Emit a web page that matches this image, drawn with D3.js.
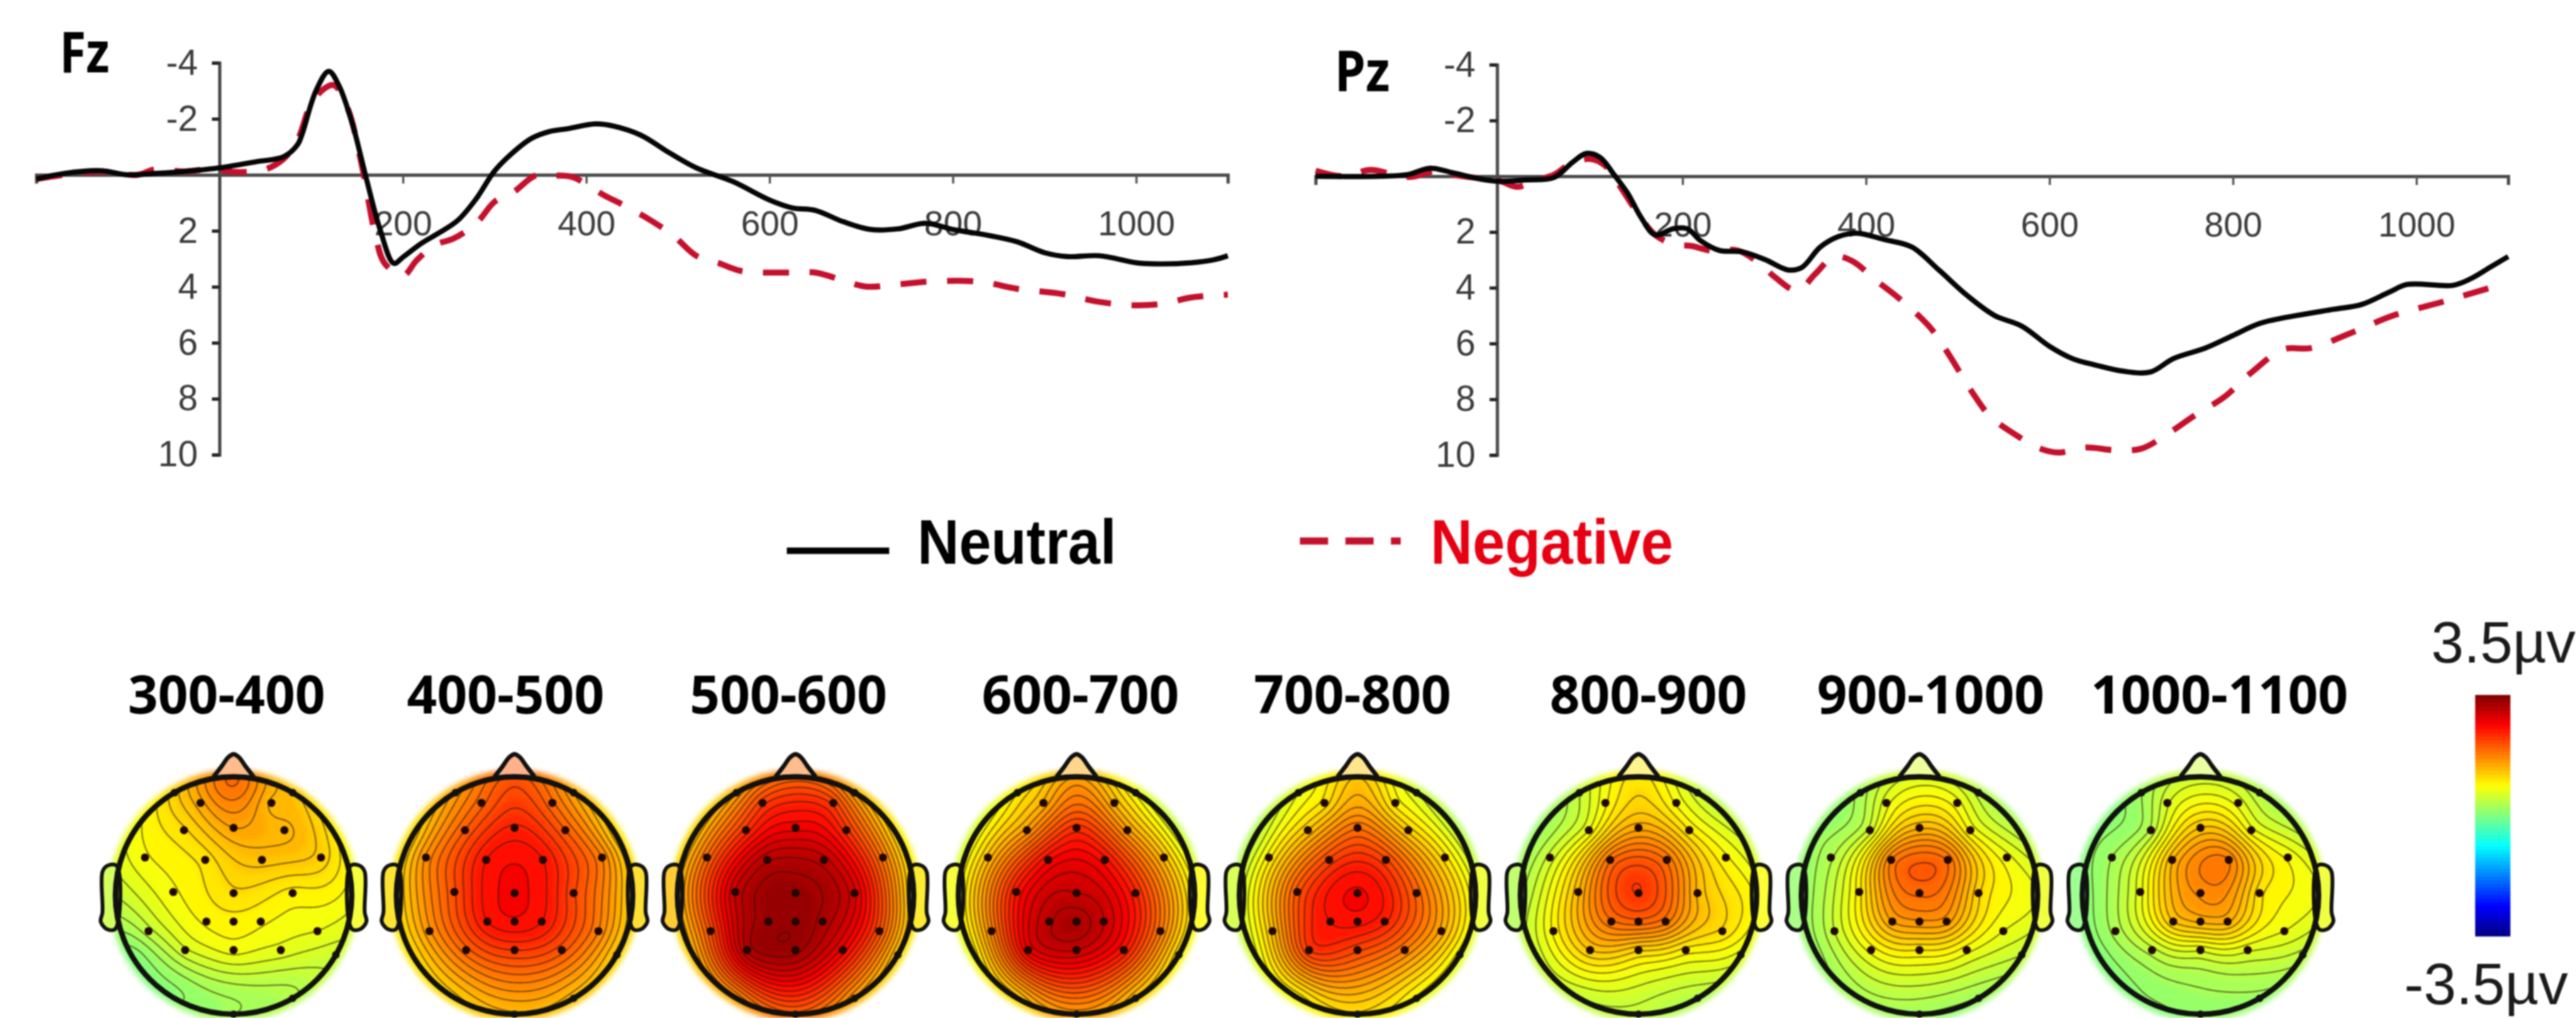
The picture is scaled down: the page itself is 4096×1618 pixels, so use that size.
<!DOCTYPE html>
<html>
<head>
<meta charset="utf-8">
<script src="https://cdn.jsdelivr.net/npm/d3@7"></script>
<style>
  html, body { margin: 0; padding: 0; background: #fff; overflow: hidden; }
  svg { display: block; filter: blur(1px); }
</style>
</head>
<body>
<div id="chart"></div>
<script>
// ERP traces (ms / microvolt)
const fzNeutralTime = [-200,-170,-130,-100,-70,-40,0,40,70,85,90,105,119,130,145,160,175,190,200,220,240,260,280,300,320,340,360,380,410,430,460,490,520,560,600,625,650,680,710,740,770,800,840,870,900,925,960,1000,1020,1060,1085,1100];
const fzNeutralValue = [0.15,-0.05,-0.15,0,-0.05,-0.12,-0.25,-0.47,-0.65,-1.08,-1.46,-3.0,-3.7,-3.2,-1.8,0.13,1.95,3.16,2.94,2.45,2.06,1.62,0.85,-0.14,-0.8,-1.3,-1.55,-1.65,-1.82,-1.74,-1.41,-0.8,-0.25,0.24,0.9,1.18,1.27,1.67,1.95,1.93,1.73,1.95,2.17,2.39,2.78,2.92,2.89,3.14,3.18,3.14,3.03,2.89];
const fzNegativeTime = [-200,-170,-130,-90,-70,-40,-10,20,50,70,85,100,115,125,140,155,170,180,200,215,235,255,280,300,320,345,365,385,420,440,470,495,520,545,570,620,650,680,705,740,780,830,870,920,960,1000,1030,1060,1100];
const fzNegativeValue = [0.15,0,-0.12,0,-0.2,-0.12,-0.2,-0.1,-0.2,-0.58,-1.25,-2.55,-3.1,-3.2,-2.35,-0.36,2.17,3.16,3.6,3.05,2.5,2.28,1.73,0.96,0.63,0.02,0.02,0.08,0.74,1.07,1.62,2.17,2.89,3.16,3.44,3.49,3.49,3.77,3.99,3.91,3.8,3.82,4.07,4.26,4.54,4.66,4.6,4.38,4.28];

const pzNeutralTime = [-200,-130,-100,-75,-50,-20,0,30,60,80,95,110,125,140,155,170,190,205,220,240,265,290,315,330,350,370,390,420,450,480,510,540,570,600,625,650,680,710,735,770,800,830,870,910,940,970,990,1040,1060,1080,1100];
const pzNeutralValue = [0,0,-0.06,-0.29,-0.12,0.1,0.18,0.13,0.04,-0.5,-0.82,-0.68,-0.07,0.6,1.49,2.1,1.88,1.88,2.32,2.66,2.71,2.99,3.36,3.27,2.54,2.16,2.04,2.27,2.54,3.38,4.27,4.99,5.38,6.1,6.54,6.77,6.99,7.02,6.54,6.16,5.71,5.27,4.99,4.77,4.6,4.16,3.88,3.91,3.66,3.27,2.88];
const pzNegativeTime = [-200,-170,-140,-115,-95,-70,-40,0,20,40,60,80,100,115,130,150,170,190,210,230,260,285,300,325,345,365,385,410,440,470,490,515,535,560,590,610,640,670,700,725,760,790,820,855,885,930,975,1030,1070,1100];
const pzNegativeValue = [-0.2,0,-0.23,-0.06,0.02,-0.18,0,0.16,0.38,0.15,-0.06,-0.5,-0.62,-0.4,0.27,1.27,2.1,2.43,2.5,2.66,2.66,3.16,3.6,4.1,3.49,2.88,3.04,3.71,4.49,5.43,6.38,7.71,8.6,9.21,9.77,9.91,9.73,9.82,9.77,9.32,8.54,7.93,7.04,6.21,6.16,5.6,4.99,4.49,4.1,3.82];

const xTicks = [200, 400, 600, 800, 1000];
const yTicks = [-4, -2, 2, 4, 6, 8, 10];

// topographic maps: electrode montage in head units, then values for each time window
const electrodeX = [-.28,.32,-.42,0,.43,-.75,-.24,.24,.74,-.51,0,.50,-.23,0,.23,-.72,.71,-.41,0,.40];
const electrodeY = [-.78,-.78,-.55,-.57,-.55,-.32,-.30,-.30,-.32,-.03,-.02,-.02,.22,.22,.22,.30,.30,.46,.46,.46];
const rimAngles = [0,30,60,90,120,150,180,210,240,270,300,330];
const rimMarks = [30,120,150,180,330];

const windows = ['300-400','400-500','500-600','600-700','700-800','800-900','900-1000','1000-1100'];
const elec300 = [1.45,1.35,1.1,1.5,1.4,.85,1.05,1.3,1.2,.85,1.1,.95,.9,.95,.9,.45,.75,.6,.8,.7];
const elec400 = [1.95,1.9,2.0,2.4,2.0,1.65,2.5,2.5,1.75,2.1,2.65,2.15,2.5,2.6,2.5,1.6,1.75,1.95,2.25,2.05];
const elec500 = [2.2,2.2,2.3,2.7,2.3,1.9,3.1,3.05,1.8,3.0,3.3,2.9,3.3,3.35,3.2,2.1,2.1,3.15,3.3,2.7];
const elec600 = [1.4,1.35,1.55,2.3,1.55,1.3,2.6,2.55,1.3,2.5,3.0,2.4,3.1,3.2,3.0,1.7,1.8,2.75,3.0,2.5];
const elec700 = [1.05,.95,1.25,1.85,1.2,.95,2.15,2.15,1.05,2.05,2.65,1.95,2.5,2.55,2.4,1.3,1.45,2.25,2.15,1.75];
const elec800 = [.85,.85,.75,1.45,1.0,.55,1.85,1.85,.9,1.35,2.25,1.35,1.85,1.95,1.8,.9,1.1,1.25,1.15,.95];
const elec900 = [.7,.8,.55,1.35,.85,.35,1.75,1.85,.8,.95,1.9,1.15,1.5,1.6,1.55,.5,.75,.8,1.0,.8];
const elec1000 = [.6,.7,.4,1.25,.8,.25,1.35,1.75,.85,.7,1.65,1.05,1.25,1.4,1.4,.3,.75,.45,.65,.65];
const rim300 = [1.9,1.3,1.0,.8,.55,.35,.25,.1,.05,.5,.8,1.2];
const rim400 = [2.05,1.5,1.15,1.15,1.2,1.3,1.35,1.2,1.1,1.1,1.15,1.55];
const rim500 = [1.9,1.5,1.1,1.05,1.2,1.5,1.95,1.6,1.35,1.3,1.25,1.5];
const rim600 = [1.5,.85,.65,.9,1.0,1.25,1.55,1.2,.9,.8,.75,1.0];
const rim700 = [1.25,.65,.5,.75,.8,.85,1.1,.9,.7,.55,.45,.75];
const rim800 = [1.05,.55,.6,.85,.7,.4,.45,.5,.55,.35,.25,.5];
const rim900 = [.65,.45,.45,.75,.5,.25,.25,.3,.2,.15,.2,.3];
const rim1000 = [.55,.4,.5,.75,.45,.2,.15,.1,.05,.05,.1,.25];
const electrodeValues = [elec300,elec400,elec500,elec600,elec700,elec800,elec900,elec1000];
const rimValues = [rim300,rim400,rim500,rim600,rim700,rim800,rim900,rim1000];

// colour bar stops (jet)
const jetDomain = [-3.5,-2.625,-.875,.875,2.625,3.5];
const jetColors = ['#00007f','#0000ff','#00ffff','#ffff00','#ff0000','#7f0000'];

// layout is in reference pixels, the viewBox scales it to the window
const width = 4754;
const height = 1878;

const svg = d3.select('#chart')
  .append('svg')
  .attr('width', 4096)
  .attr('height', 1618)
  .attr('viewBox', [0, 0, width, height])
  .style('font-family', '"Liberation Sans", Arial, sans-serif');

const defs = svg.append('defs');
defs.append('filter').attr('id', 'soft')
  .attr('x', '-10%').attr('y', '-10%').attr('width', '120%').attr('height', '120%')
  .append('feGaussianBlur').attr('stdDeviation', 5);

const jet = d3.scaleLinear().domain(jetDomain).range(jetColors).clamp(true);

// ---- ERP panels ----
const panels = [
  { name: 'Fz', nameX: 110, nameY: 133, nameW: 92, axisX: 405,
    x: d3.scaleLinear().domain([-200, 1100]).range([67, 2266]),
    y: d3.scaleLinear().domain([-4, 10]).range([116, 839]),
    neutral: [fzNeutralTime, fzNeutralValue], negative: [fzNegativeTime, fzNegativeValue] },
  { name: 'Pz', nameX: 2463, nameY: 168, nameW: 102, axisX: 2763,
    x: d3.scaleLinear().domain([-200, 1100]).range([2428, 4629]),
    y: d3.scaleLinear().domain([-4, 10]).range([119.5, 839.5]),
    neutral: [pzNeutralTime, pzNeutralValue], negative: [pzNegativeTime, pzNegativeValue] }
];

panels.forEach(p => {
  const g = svg.append('g');

  const xAxis = g.append('g')
    .attr('transform', `translate(0, ${p.y(0)})`)
    .call(d3.axisBottom(p.x).tickValues(xTicks).tickSizeOuter(0).tickSize(16).tickPadding(50).tickFormat(d3.format('d')));
  xAxis.select('.domain').attr('stroke', '#4a4a4a').attr('stroke-width', 6);
  xAxis.selectAll('.tick line').attr('stroke', '#555').attr('stroke-width', 4);
  xAxis.selectAll('text').attr('font-size', 64).attr('fill', '#3a3a3a').attr('font-family', '"Liberation Sans", Arial, sans-serif');

  const yAxis = g.append('g')
    .attr('transform', `translate(${p.axisX}, 0)`)
    .call(d3.axisLeft(p.y).tickValues(yTicks).tickSizeOuter(0).tickSize(14).tickPadding(26).tickFormat(d => d));
  yAxis.select('.domain').attr('stroke', '#4a4a4a').attr('stroke-width', 6);
  yAxis.selectAll('.tick line').attr('stroke', '#222').attr('stroke-width', 6);
  yAxis.selectAll('text').attr('font-size', 66).attr('fill', '#3a3a3a').attr('font-family', '"Liberation Sans", Arial, sans-serif');

  const line = d3.line()
    .x(d => p.x(d[0]))
    .y(d => p.y(d[1]))
    .curve(d3.curveCatmullRom.alpha(0.5));

  g.append('path')
    .attr('d', line(d3.zip(p.negative[0], p.negative[1])))
    .attr('fill', 'none')
    .attr('stroke', '#c4102c')
    .attr('stroke-width', 11)
    .attr('stroke-dasharray', '48 38');

  g.append('path')
    .attr('d', line(d3.zip(p.neutral[0], p.neutral[1])))
    .attr('fill', 'none')
    .attr('stroke', '#050505')
    .attr('stroke-width', 9.5);

  g.append('text')
    .attr('x', p.nameX).attr('y', p.nameY)
    .attr('font-family', '"Open Sans", sans-serif')
    .attr('font-weight', 700).attr('font-size', 105)
    .attr('textLength', p.nameW).attr('lengthAdjust', 'spacingAndGlyphs')
    .text(p.name);
});

// ---- legend ----
const legend = svg.append('g');
legend.append('line').attr('x1', 1452).attr('x2', 1641).attr('y1', 1016).attr('y2', 1016)
  .attr('stroke', '#000').attr('stroke-width', 12);
legend.append('text').attr('x', 1693).attr('y', 1040)
  .attr('font-weight', 700).attr('font-size', 116)
  .attr('textLength', 367).attr('lengthAdjust', 'spacingAndGlyphs')
  .text('Neutral');
legend.append('line').attr('x1', 2399).attr('x2', 2585).attr('y1', 998).attr('y2', 998)
  .attr('stroke', '#c4102c').attr('stroke-width', 13).attr('stroke-dasharray', '52 32');
legend.append('text').attr('x', 2640).attr('y', 1040)
  .attr('fill', '#e60012').attr('font-weight', 700).attr('font-size', 116)
  .attr('textLength', 448).attr('lengthAdjust', 'spacingAndGlyphs')
  .text('Negative');

// ---- topographic maps ----
// biharmonic spline through the electrode values, as topoplot does it
function spline(px, py, pv) {
  const green = r => (r === 0 ? 0 : r * r * (Math.log(r) - 1));
  const n = pv.length;
  const a = px.map((x, i) => [...px.map((x2, j) => green(Math.hypot(x - x2, py[i] - py[j]))), pv[i]]);
  for (let c = 0; c < n; c++) {
    let best = c;
    for (let r = c + 1; r < n; r++) if (Math.abs(a[r][c]) > Math.abs(a[best][c])) best = r;
    [a[c], a[best]] = [a[best], a[c]];
    for (let r = 0; r < n; r++) {
      if (r === c) continue;
      const f = a[r][c] / a[c][c];
      for (let k = c; k <= n; k++) a[r][k] -= f * a[c][k];
    }
  }
  const w = a.map((row, i) => row[n] / row[i]);
  return (x, y) => d3.sum(w, (wi, i) => wi * green(Math.hypot(x - px[i], y - py[i])));
}

const headX = d3.scalePoint().domain(windows).range([431, 4061]);
const labelX = [418, 933, 1455, 1994, 2496, 3042, 3563, 4096];
const headY = d3.scaleLinear().domain([-1, 1]).range([1433, 1871]);
const headRx = 218;
const gridSize = 110;
const gridSpan = 1.14;
const fillLevels = d3.range(-3.5, 3.5, 7 / 64);
const lineLevels = d3.range(-3.5, 3.5, 7 / 56);
const rimX = rimAngles.map(a => Math.sin(a * Math.PI / 180));
const rimY = rimAngles.map(a => -Math.cos(a * Math.PI / 180));

windows.forEach((win, i) => {
  svg.append('text')
    .attr('x', labelX[i]).attr('y', 1316)
    .attr('text-anchor', 'middle')
    .attr('font-family', '"Open Sans", sans-serif')
    .attr('font-weight', 700).attr('font-size', 97)
    .text(win);

  const hx = d3.scaleLinear().domain([-1, 1]).range([headX(win) - headRx, headX(win) + headRx]);
  const field = spline([...electrodeX, ...rimX], [...electrodeY, ...rimY], [...electrodeValues[i], ...rimValues[i]]);

  const values = new Array(gridSize * gridSize);
  for (let r = 0; r < gridSize; r++) {
    for (let c = 0; c < gridSize; c++) {
      const nx = (c + 0.5) / gridSize * 2 * gridSpan - gridSpan;
      const ny = (r + 0.5) / gridSize * 2 * gridSpan - gridSpan;
      values[r * gridSize + c] = field(nx, ny);
    }
  }

  const gx = d3.scaleLinear().domain([0, gridSize]).range([hx(-gridSpan), hx(gridSpan)]);
  const gy = d3.scaleLinear().domain([0, gridSize]).range([headY(-gridSpan), headY(gridSpan)]);
  const path = d3.geoPath(d3.geoTransform({
    point(x, y) { this.stream.point(gx(x), gy(y)); }
  }));

  const g = svg.append('g');
  const ellipse = (sel, k) => sel
    .attr('cx', headX(win)).attr('cy', headY(0))
    .attr('rx', headRx * k).attr('ry', (headY(1) - headY(0)) * k);

  ellipse(defs.append('clipPath').attr('id', `halo${i}`).append('ellipse'), 1.055);
  ellipse(defs.append('clipPath').attr('id', `inner${i}`).append('ellipse'), 1);

  const minV = d3.min(values);
  const bands = fillLevels.filter((l, j) => j === fillLevels.length - 1 || fillLevels[j + 1] > minV);
  const contours = d3.contours().size([gridSize, gridSize]).smooth(true);

  const fills = g.append('g').attr('filter', 'url(#soft)')
    .append('g').attr('clip-path', `url(#halo${i})`);
  fills.selectAll('path')
    .data(contours.thresholds(bands.map((l, j) => (j === 0 ? -10 : l)))(values))
    .join('path')
    .attr('d', path)
    .attr('fill', (d, j) => jet(bands[j] + 3.5 / 64));

  g.append('g').attr('clip-path', `url(#inner${i})`)
    .selectAll('path')
    .data(contours.thresholds(lineLevels)(values))
    .join('path')
    .attr('d', path)
    .attr('fill', 'none')
    .attr('stroke', '#2a1400')
    .attr('stroke-opacity', 0.52)
    .attr('stroke-width', 2.8);

  // nose and ears
  const outline = d3.line().x(d => hx(d[0])).y(d => headY(d[1])).curve(d3.curveCatmullRomClosed.alpha(0.5));
  const noseLine = d3.line().x(d => hx(d[0])).y(d => headY(d[1])).curve(d3.curveCatmullRom.alpha(0.5));
  const pale = (v, t) => d3.interpolateRgb(jet(v), '#fff')(t);

  g.append('path')
    .attr('d', noseLine([[-.17, -1.0], [-.1, -1.09], [-.045, -1.165], [0, -1.19], [.045, -1.165], [.1, -1.09], [.17, -1.0]]))
    .attr('fill', pale(rimValues[i][0], 0.55))
    .attr('stroke', '#111').attr('stroke-width', 8);

  [-1, 1].forEach(side => {
    g.append('path')
      .attr('d', outline([[.99, -.25], [1.07, -.25], [1.11, -.2], [1.11, .14], [1.125, .22], [1.07, .285], [1.0, .28]]
        .map(d => [d[0] * side, d[1]])))
      .attr('fill', pale(rimValues[i][side > 0 ? 3 : 9], 0.2))
      .attr('stroke', '#111').attr('stroke-width', 7);
  });

  ellipse(g.append('ellipse'), 1)
    .attr('fill', 'none')
    .attr('stroke', '#111')
    .attr('stroke-width', 10);

  g.append('g')
    .selectAll('circle')
    .data(electrodeX)
    .join('circle')
    .attr('cx', d => hx(d))
    .attr('cy', (d, j) => headY(electrodeY[j]))
    .attr('r', 7.5)
    .attr('fill', '#1e0800');

  g.append('g')
    .selectAll('circle')
    .data(rimMarks)
    .join('circle')
    .attr('cx', d => hx(Math.sin(d * Math.PI / 180)))
    .attr('cy', d => headY(-Math.cos(d * Math.PI / 180)))
    .attr('r', 7)
    .attr('fill', '#111');
});

// ---- colour bar ----
const barY = d3.scaleLinear().domain([3.5, -3.5]).range([1282, 1727]);
const barLevels = d3.range(-3.5, 3.5, 7 / 64);
svg.append('g')
  .selectAll('rect')
  .data(barLevels)
  .join('rect')
  .attr('x', 4568)
  .attr('width', 65)
  .attr('y', d => barY(d + 7 / 64))
  .attr('height', barY(-3.5) - barY(-3.5 + 7 / 64) + 0.6)
  .attr('fill', d => jet(d + 3.5 / 64));

svg.append('text').attr('x', 4487).attr('y', 1222)
  .attr('font-size', 108).attr('fill', '#1a1a1a')
  .text('3.5µv');
svg.append('text').attr('x', 4437).attr('y', 1852)
  .attr('font-size', 108).attr('fill', '#1a1a1a')
  .text('-3.5µv');
</script>
</body>
</html>
